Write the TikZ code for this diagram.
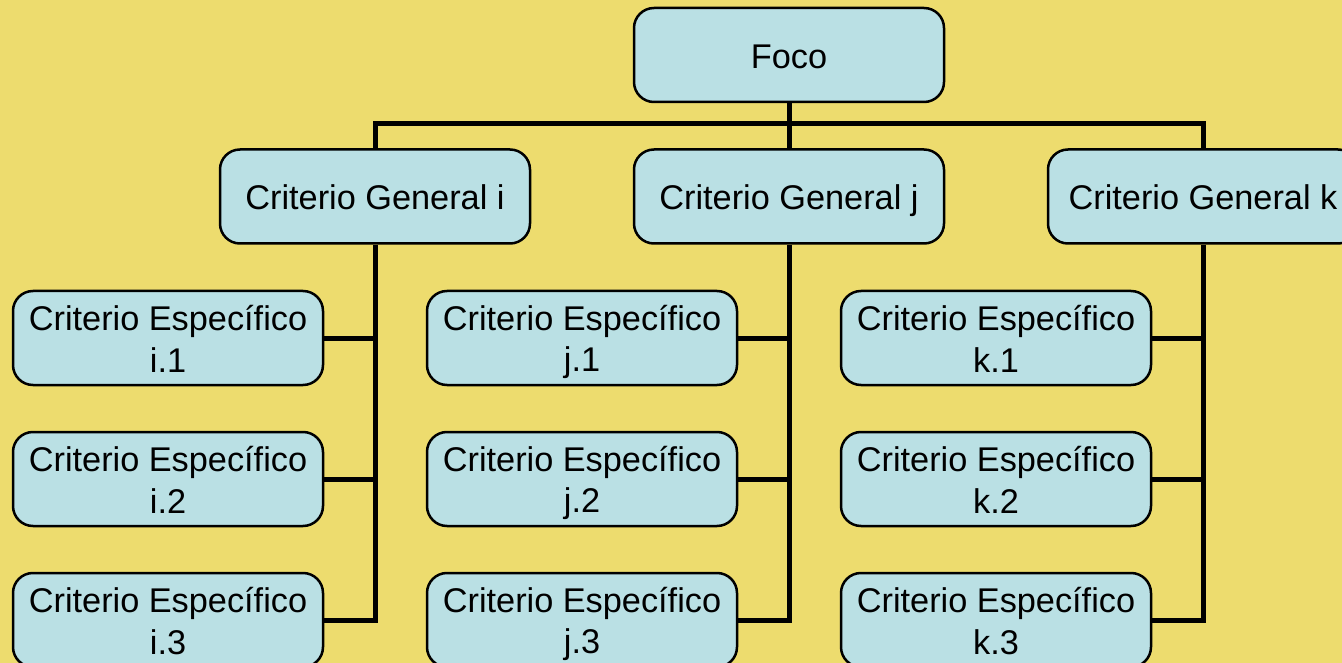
\documentclass[tikz,border=0pt]{standalone}
\usepackage{fontspec}
\setmainfont{Liberation Sans}
\usepackage{tikz}
\definecolor{fondo}{RGB}{237,220,110}
\definecolor{caja}{RGB}{186,224,228}
\newcommand{\puntal}{\rule[-6pt]{0pt}{39pt}}
\tikzset{
	caja/.style={draw=black, fill=caja, line width=2.5pt, rounded corners=20pt,
		minimum width=310pt, minimum height=94pt, align=center, inner sep=0pt,
		font=\fontsize{34.3}{39}\selectfont},
	enlace/.style={line width=5pt, black}
}

\begin{document}
\begin{tikzpicture}[x=1pt, y=-1pt]
		\clip (0, 0) rectangle (1342, 663);
		\fill[fondo] (0, 0) rectangle (1342, 663);
		\node[caja] (foco) at (789, 55) {\puntal Foco};
		\foreach \g/\x in {i/375, j/789, k/1203}
			\node[caja] (g\g) at (\x, 196.5) {\puntal Criterio General \g};
		\foreach \g/\x in {i/168, j/582, k/996}
			\foreach \n/\y in {1/338, 2/479, 3/620}
				\node[caja] (e\g\n) at (\x, \y) {\puntal Criterio Específico\\\puntal\g.\n};
		% conectores
		\draw[enlace] (foco) -- (gj);
		\draw[enlace] (gi.north) -- ++(0, -25) -| (gk.north);
		\foreach \g in {i, j, k} {
			\draw[enlace] (g\g.south) |- (e\g3.east);
			\foreach \n in {1, 2}
				\draw[enlace] (e\g\n.east) -- (e\g\n.east -| g\g.south);
		}
	\end{tikzpicture}
\end{document}
